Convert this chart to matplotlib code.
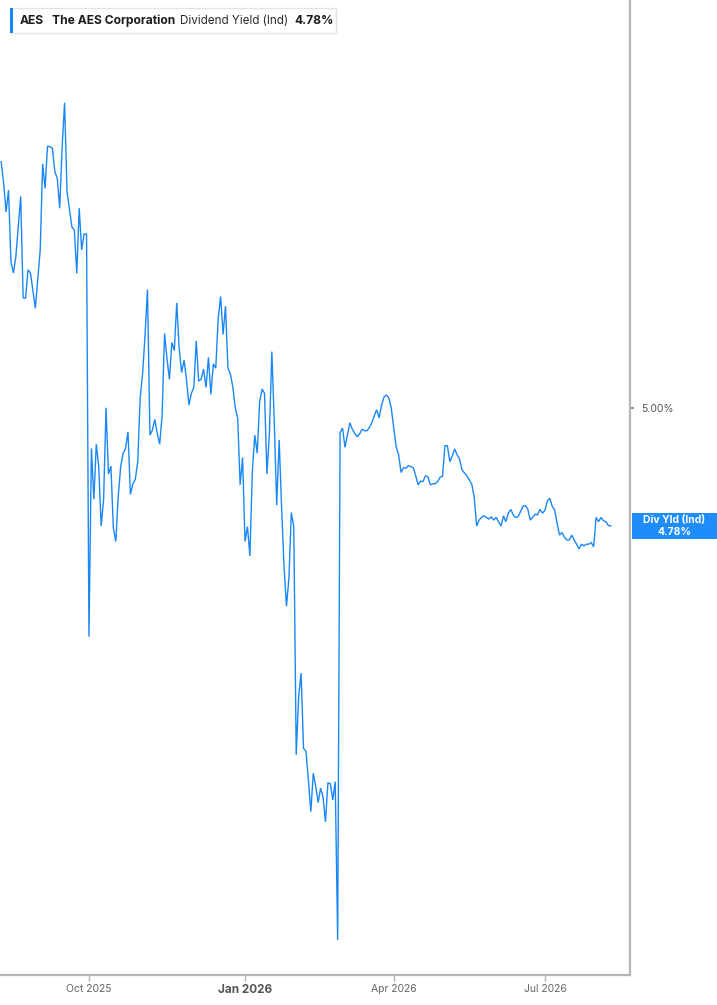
import matplotlib
matplotlib.use("Agg")
import matplotlib.pyplot as plt
import numpy as np
import pandas as pd
from matplotlib.patches import Rectangle

# ---------------- data ----------------
start_date = "2025-08-11"
market_holidays = ["2025-09-01", "2025-11-27", "2025-12-25", "2026-01-01", "2026-01-19",
                   "2026-02-16", "2026-04-03", "2026-05-25", "2026-06-19", "2026-07-03"]

# trading-session number (counted from start_date) and dividend yield (%)
session_idx = [0, 1, 2, 3, 4, 5, 6, 8, 9, 10, 11, 12, 14, 16, 17, 18, 19, 20, 21, 22,
               23, 24, 25, 26, 27, 29, 30, 31, 32, 33, 34, 35, 36, 37, 38, 39, 40, 41, 42, 43,
               44, 45, 46, 47, 48, 49, 50, 51, 52, 53, 54, 55, 56, 57, 58, 59, 60, 61, 62, 63,
               64, 65, 66, 67, 68, 69, 70, 71, 72, 73, 74, 75, 76, 77, 78, 79, 80, 81, 82, 83,
               84, 85, 86, 87, 88, 89, 90, 91, 92, 93, 94, 95, 96, 97, 98, 99, 100, 101, 102, 103,
               104, 105, 106, 107, 108, 109, 110, 111, 112, 113, 114, 115, 116, 117, 118, 119, 120, 121, 122, 123,
               124, 125, 126, 127, 128, 129, 130, 131, 132, 133, 134, 135, 136, 137, 138, 139, 140, 141, 142, 143,
               144, 145, 146, 147, 148, 149, 150, 151, 152, 153, 154, 155, 156, 157, 158, 159, 160, 161, 162, 163,
               164, 165, 166, 167, 168, 169, 170, 171, 172, 173, 174, 175, 176, 177, 178, 179, 180, 181, 182, 183,
               184, 185, 186, 187, 188, 189, 190, 191, 192, 193, 194, 195, 196, 197, 198, 199, 200, 201, 202, 203,
               204, 205, 206, 207, 208, 209, 210, 211, 212, 213, 214, 215, 216, 217, 218, 219, 220, 221, 222, 223,
               224, 225, 226, 227, 228, 229, 230, 231, 232, 233, 234, 235, 236, 237, 238, 239, 240, 241, 242, 243,
               244, 245, 246, 247, 248, 249, 250]
div_yield = [5.461, 5.421, 5.367, 5.408, 5.274, 5.253, 5.283, 5.396, 5.206, 5.206, 5.259, 5.253, 5.187, 5.296, 5.457, 5.411, 5.490, 5.489, 5.486, 5.442,
             5.430, 5.374, 5.489, 5.571, 5.405, 5.339, 5.333, 5.252, 5.374, 5.296, 5.326, 5.326, 4.573, 4.925, 4.830, 4.933, 4.891, 4.780, 4.829, 5.001,
             4.877, 4.892, 4.776, 4.751, 4.835, 4.891, 4.916, 4.925, 4.956, 4.839, 4.859, 4.867, 4.900, 5.019, 5.065, 5.137, 5.222, 4.950, 4.959, 4.979,
             4.953, 4.933, 4.987, 5.140, 5.093, 5.054, 5.123, 5.108, 5.197, 5.112, 5.067, 5.090, 5.054, 5.006, 5.028, 5.039, 5.126, 5.051, 5.054, 5.073,
             5.039, 5.095, 5.026, 5.083, 5.075, 5.168, 5.209, 5.138, 5.191, 5.075, 5.064, 5.040, 5.001, 4.981, 4.857, 4.908, 4.751, 4.779, 4.724, 4.881,
             4.950, 4.916, 5.012, 5.036, 5.028, 4.877, 4.953, 5.106, 4.975, 4.819, 4.941, 4.816, 4.704, 4.630, 4.682, 4.805, 4.779, 4.352, 4.461, 4.505,
             4.364, 4.359, 4.305, 4.246, 4.318, 4.293, 4.263, 4.290, 4.274, 4.227, 4.300, 4.298, 4.268, 4.302, 4.006, 4.955, 4.963, 4.927, 4.950, 4.973,
             4.961, 4.953, 4.947, 4.952, 4.961, 4.958, 4.958, 4.964, 4.973, 4.986, 4.997, 4.982, 5.006, 5.021, 5.025, 5.019, 5.000, 4.963, 4.928, 4.913,
             4.880, 4.889, 4.888, 4.893, 4.891, 4.889, 4.874, 4.857, 4.864, 4.863, 4.874, 4.872, 4.857, 4.859, 4.859, 4.863, 4.871, 4.873, 4.930, 4.930,
             4.900, 4.911, 4.924, 4.913, 4.905, 4.885, 4.879, 4.874, 4.866, 4.858, 4.834, 4.780, 4.791, 4.796, 4.799, 4.796, 4.793, 4.797, 4.791, 4.796,
             4.788, 4.780, 4.799, 4.788, 4.804, 4.811, 4.801, 4.796, 4.797, 4.807, 4.817, 4.818, 4.811, 4.791, 4.796, 4.802, 4.801, 4.811, 4.804, 4.809,
             4.827, 4.832, 4.817, 4.810, 4.785, 4.763, 4.768, 4.759, 4.754, 4.754, 4.763, 4.754, 4.746, 4.737, 4.746, 4.743, 4.746, 4.746, 4.749, 4.741,
             4.796, 4.788, 4.796, 4.790, 4.788, 4.781, 4.780]

tick_months = ["2025-10", "2026-01", "2026-04", "2026-07"]
tick_labels = ["Oct 2025", "Jan 2026", "Apr 2026", "Jul 2026"]
ytick_values = [5.00]
ticker = "AES"
company = "The AES Corporation"
metric = "Dividend Yield (Ind)"
last_tag = "Div Yld (Ind)"

# ---------------- layout / style ----------------
W, H = 717, 1005
BLUE = "#1a87f7"
FONT = ["Inter", "DejaVu Sans"]
plt.rcParams["font.family"] = FONT

cbd = pd.offsets.CustomBusinessDay(holidays=market_holidays)
sessions = pd.date_range(start_date, periods=300, freq=cbd)
tick_pos = [int(np.argmax(sessions >= pd.Timestamp(m + "-01"))) for m in tick_months]

fig = plt.figure(figsize=(W / 100, H / 100), dpi=100)
ax = fig.add_axes([0, 30 / H, 630 / W, 975 / H])
ax.plot(session_idx, div_yield, color=BLUE, lw=1.0, solid_joinstyle="miter")
ax.set_xlim(-0.49, 257.9)
ax.set_ylim(3.9407, 5.7632)

for s in ["left", "top"]:
    ax.spines[s].set_visible(False)
for s in ["right", "bottom"]:
    ax.spines[s].set_color("#b4b4b4")
    ax.spines[s].set_linewidth(1.6)

ax.set_xticks(tick_pos)
ax.set_xticklabels(tick_labels)
ax.tick_params(axis="x", length=4, width=1, color="#b4b4b4", labelcolor="#666666",
               labelsize=7.5, pad=2.5)
for lab in ax.get_xticklabels():
    if lab.get_text().startswith("Jan"):
        lab.set_fontweight("bold")
        lab.set_color("#555555")
        lab.set_fontsize(8.5)

ax.yaxis.tick_right()
ax.set_yticks(ytick_values)
ax.set_yticklabels([f"{v:.2f}%" for v in ytick_values])
ax.tick_params(axis="y", length=3, width=1.2, color="#777777", labelcolor="#555555",
               labelsize=7.5, pad=5)

# last-value tag on the right
last = div_yield[-1]
ypix = ax.transData.transform((0, last))[1]
fig.patches.append(Rectangle((632 / W, (ypix - 13) / H), 85 / W, 26 / H,
                             transform=fig.transFigure, facecolor="#1e8cf9",
                             edgecolor="none", zorder=5))
fig.text(674.5 / W, (ypix + 6) / H, last_tag, color="white", fontsize=7.5,
         fontweight="bold", ha="center", va="center", zorder=6)
fig.text(674.5 / W, (ypix - 6) / H, f"{last:.2f}%", color="white", fontsize=7.5,
         fontweight="bold", ha="center", va="center", zorder=6)

# legend chip at top-left
fig.patches.append(Rectangle((10 / W, 1 - 33 / H), 326 / W, 25 / H, transform=fig.transFigure,
                             facecolor="white", edgecolor="#e4e4e4", lw=1.0, zorder=5))
fig.patches.append(Rectangle((10 / W, 1 - 33 / H), 3 / W, 25 / H, transform=fig.transFigure,
                             facecolor=BLUE, edgecolor="none", zorder=6))
ty = 1 - 21 / H
fig.text(20 / W, ty, ticker, fontsize=8.7, fontweight="bold", color="#1c1c1c", va="center", zorder=7)
fig.text(52 / W, ty, company, fontsize=8.7, fontweight="bold", color="#1c1c1c", va="center", zorder=7)
fig.text(180 / W, ty, metric, fontsize=8.4, color="#2a2a2a", va="center", zorder=7)
fig.text(294 / W, ty, f"{last:.2f}%", fontsize=8.7, fontweight="bold", color="#1c1c1c", va="center", zorder=7)

fig.savefig("out.png", dpi=100, facecolor="white")
